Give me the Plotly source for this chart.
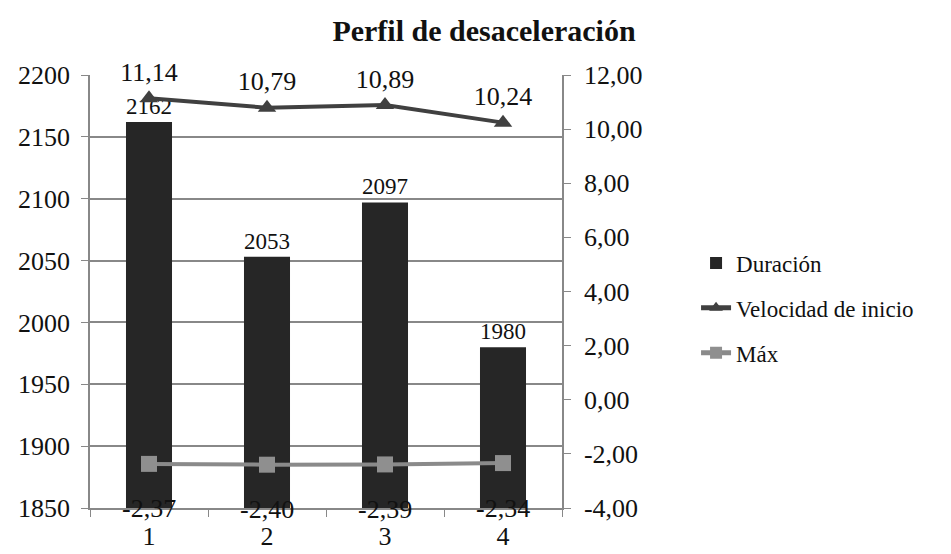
import plotly.graph_objects as go

categories = ["1", "2", "3", "4"]
duracion = [2162, 2053, 2097, 1980]
velocidad = [11.14, 10.79, 10.89, 10.24]
maximo = [-2.37, -2.40, -2.39, -2.34]

left_ticks = [1850, 1900, 1950, 2000, 2050, 2100, 2150, 2200]
right_ticks = [-4, -2, 0, 2, 4, 6, 8, 10, 12]


def fmt(v):
    return f"{v:.2f}".replace(".", ",")


right_ticktext = [fmt(v) for v in right_ticks]

FONT = "Liberation Serif"

fig = go.Figure()
fig.add_trace(go.Bar(
    x=categories, y=duracion, name="Duración", legendgroup="a",
    marker=dict(color="#262626", line=dict(width=0)),
    text=[str(v) for v in duracion], textposition="outside",
    textfont=dict(family=FONT, size=26),
    cliponaxis=False, yaxis="y",
))
fig.add_trace(go.Scatter(
    x=categories, y=velocidad, name="Velocidad de inicio", legendgroup="b",
    mode="lines+markers+text",
    line=dict(color="#404040", width=4),
    marker=dict(symbol="triangle-up", size=16, color="#404040"),
    text=[fmt(v) for v in velocidad], textposition="top center",
    textfont=dict(family=FONT, size=26),
    cliponaxis=False, yaxis="y2",
))
fig.add_trace(go.Scatter(
    x=categories, y=maximo, name="Máx", legendgroup="c",
    mode="lines+markers",
    line=dict(color="#8a8a8a", width=4),
    marker=dict(symbol="square", size=16, color="#8f8f8f"),
    cliponaxis=False, yaxis="y2",
))

for i, v in enumerate(maximo):
    fig.add_annotation(x=i, y=v, xref="x", yref="y2", text=fmt(v),
                       showarrow=False, yshift=-45,
                       font=dict(family=FONT, size=26))

fig.update_layout(
    width=951, height=554,
    margin=dict(l=82, r=397, t=67, b=54, autoexpand=False),
    paper_bgcolor="white", plot_bgcolor="white",
    font=dict(family=FONT, size=24, color="#111111"),
    title=dict(text="<b>Perfil de desaceleración</b>", x=476 / 951, xanchor="center",
               y=1 - 22 / 554, yanchor="middle",
               font=dict(family=FONT, size=30)),
    bargap=0.61,
    showlegend=True,
    legend=dict(x=1.284, xanchor="left", y=0.462, yanchor="middle",
                font=dict(family=FONT, size=23),
                traceorder="grouped", tracegroupgap=12,
                itemsizing="constant", bgcolor="rgba(0,0,0,0)"),
    xaxis=dict(type="category", showgrid=False, showline=True, linecolor="#888", linewidth=1.5,
               ticks="outside", tickson="boundaries", ticklen=7, tickcolor="#888",
               ticklabelstandoff=4,
               tickfont=dict(family=FONT, size=26)),
    yaxis=dict(range=[1850, 2200], tickvals=left_ticks, ticktext=[str(t) for t in left_ticks],
               showgrid=True, gridcolor="#888", gridwidth=1.5,
               showline=True, linecolor="#888", linewidth=1.5, ticks="outside", ticklen=7,
               tickcolor="#888", zeroline=False, ticklabelstandoff=6,
               tickfont=dict(family=FONT, size=26)),
    yaxis2=dict(range=[-4, 12], tickvals=right_ticks, ticktext=right_ticktext,
                overlaying="y", side="right", showgrid=False, zeroline=False,
                showline=True, linecolor="#888", linewidth=1.5, ticks="outside", ticklen=7,
                tickcolor="#888", ticklabelstandoff=8,
                tickfont=dict(family=FONT, size=26)),
)

fig.write_html("out.html")
